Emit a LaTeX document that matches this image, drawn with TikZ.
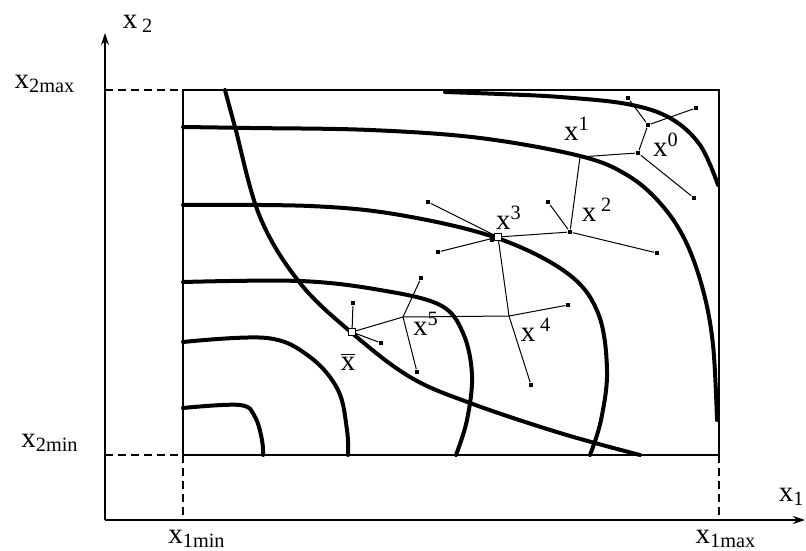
\documentclass[tikz,border=0pt]{standalone}
\usepackage{fontspec}
\setmainfont{Liberation Serif}
\usetikzlibrary{arrows.meta}

\begin{document}
\begin{tikzpicture}[x=0.5pt, y=-0.5pt,
  level/.style={line width=2pt, line join=round, line cap=round},
  search/.style={line width=0.5pt},
  frame/.style={line width=0.6pt},
  guide/.style={line width=0.6pt, dash pattern=on 4pt off 2.5pt},
  axis/.style={line width=0.7pt, -{Stealth[length=6pt, width=4pt]}},
  dot/.style={rectangle, fill=black, inner sep=0pt, minimum size=2.4pt},
  opt/.style={rectangle, draw=black, fill=white, line width=0.5pt,
              inner sep=0pt, minimum size=3.6pt},
  lbl/.style={font=\fontsize{14.5}{17}\selectfont, inner sep=0pt}
]
\useasboundingbox (0,0) rectangle (806,550);

% axes and bounds
\coordinate (O) at (105,520);
\coordinate (ytip) at (105,33);
\coordinate (xtip) at (805,520);
\coordinate (b1) at (183,90);
\coordinate (b2) at (719,455);
\draw[axis] (O) -- (ytip);
\draw[axis] (O) -- (xtip);
\draw[frame] (b1) rectangle (b2);
\draw[guide] (O |- b1) -- (b1);
\draw[guide] (O |- b2) -- (b1 |- b2);
\draw[guide] (b1 |- b2) -- (b1 |- O);
\draw[guide] (b2) -- (b2 |- O);

\node[lbl] (lx2) at (138,24) {x\,\textsubscript{2}};
\node[lbl] (lx2max) at (45,84) {x\textsubscript{2max}};
\node[lbl] (lx2min) at (50,443) {x\textsubscript{2min}};
\node[lbl] (lx1min) at (197,539) {x\textsubscript{1min}};
\node[lbl] (lx1max) at (726,539) {x\textsubscript{1max}};
\node[lbl, anchor=east] (lx1) at (805,497) {x\textsubscript{1}};

% level lines
\draw[level] plot[smooth, tension=0.6] coordinates
  {(445,92) (500,94) (560,97) (627,104) (670,118) (700,145) (718,185)};
\draw[level] plot[smooth, tension=0.6] coordinates
  {(183,127) (250,128) (370,130) (480,138) (580,156) (627,175) (660,203)
   (685,240) (703,290) (713,345) (717,420)};
\draw[level] plot[smooth, tension=0.6] coordinates
  {(183,205) (310,206) (400,215) (497,238) (567,273) (598,313) (607,370)
   (601,420) (590,455)};
\draw[level] plot[smooth, tension=0.6] coordinates
  {(183,282) (300,281) (380,290) (440,305) (463,333) (472,375) (467,420)
   (456,455)};
\draw[level] plot[smooth, tension=0.6] coordinates
  {(183,342) (267,338) (310,357) (338,390) (347,430) (348,455)};
\draw[level] plot[smooth, tension=0.6] coordinates
  {(183,408) (240,405) (255,417) (262,440) (263,455)};
% constraint
\draw[level] plot[smooth, tension=0.6] coordinates
  {(225,90) (235,127) (260,217) (300,283) (352,333) (410,377) (470,403)
   (560,433) (640,455)};

% search points
\node[dot] (pX0) at (638,153) {};
\node[dot] (pA) at (648,125) {};
\node[dot] (pTop) at (628,98) {};
\node[dot] (pR) at (696,108) {};
\node[dot] (pLR) at (694,198) {};
\coordinate (pX1) at (580,157);
\node[dot] (pX2) at (570,232) {};
\node[dot] (pD2a) at (548,202) {};
\node[dot] (pD2b) at (657,253) {};
\node[opt] (pX3) at (498,237) {};
\node[dot] (pD3a) at (428,202) {};
\node[dot] (pD3b) at (438,252) {};
\coordinate (pX4) at (509,316);
\node[dot] (pD4a) at (568,305) {};
\node[dot] (pD4b) at (531,385) {};
\coordinate (pX5) at (403,317);
\node[dot] (pD5a) at (421,278) {};
\node[dot] (pD5b) at (417,372) {};
\node[opt] (pXb) at (352,332) {};
\node[dot] (pDba) at (353,303) {};
\node[dot] (pDbb) at (381,343) {};

\draw[search] (pX0) -- (pA);
\draw[search] (pA) -- (pTop);
\draw[search] (pA) -- (pR);
\draw[search] (pX0) -- (pLR);
\draw[search] (pX0) -- (622,154) -- (pX1);
\draw[search] (pX1) -- (pX2);
\draw[search] (pX2) -- (pD2a);
\draw[search] (pX2) -- (pD2b);
\draw[search] (pX2) -- (pX3);
\draw[search] (pX3) -- (pD3a);
\draw[search] (pX3) -- (pD3b);
\draw[search] (pX3) -- (pX4);
\draw[search] (pX4) -- (pD4a);
\draw[search] (pX4) -- (pD4b);
\draw[search] (pX4) -- (pX5);
\draw[search] (pX5) -- (pD5a);
\draw[search] (pX5) -- (pD5b);
\draw[search] (pX5) -- (pXb);
\draw[search] (pXb) -- (pDba);
\draw[search] (pXb) -- (pDbb);
\node[dot] (pX3b) at (492,240) {};
\node[opt] at (pX3) {};
\node[opt] at (pXb) {};

\node[lbl] (lX0) at (666,145) {x\textsuperscript{0}};
\node[lbl] (lX1) at (577,129) {x\textsuperscript{1}};
\node[lbl] (lX2) at (597,210) {x\,\textsuperscript{2}};
\node[lbl] (lX3) at (509,218) {x\textsuperscript{3}};
\node[lbl] (lX4) at (536,330) {x\,\textsuperscript{4}};
\node[lbl] (lX5) at (426,324) {x\textsuperscript{5}};
\node[lbl] (lXb) at (348,362) {$\overline{\mbox{x}}$};

\end{tikzpicture}
\end{document}
